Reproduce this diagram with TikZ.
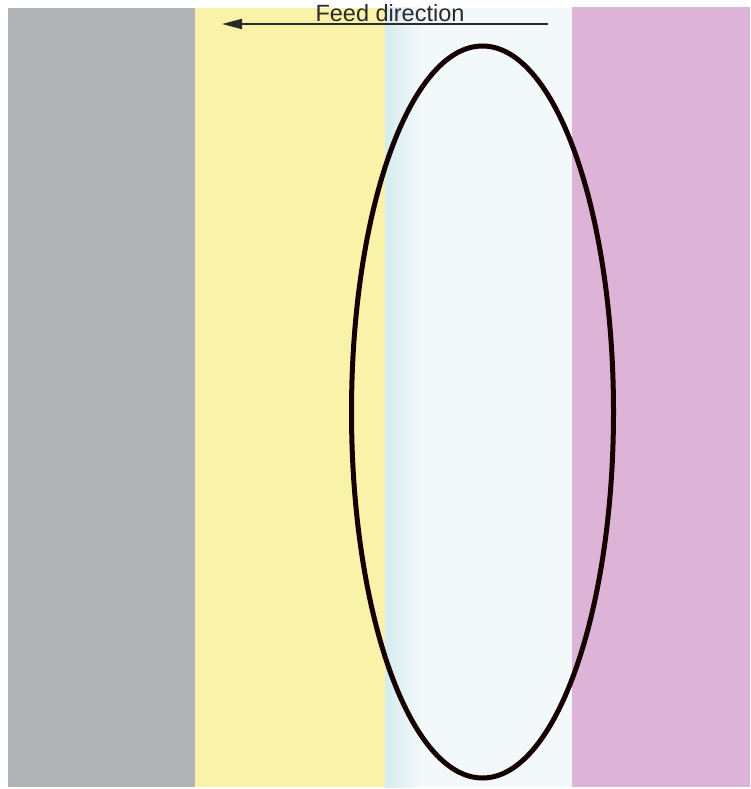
\documentclass[tikz,border=0pt]{standalone}
\usepackage{fontspec}
\setmainfont{Liberation Sans}
\usetikzlibrary{arrows.meta}
\definecolor{bandgray}{HTML}{B1B4B6}
\definecolor{bandyellow}{HTML}{F8F3A9}
\definecolor{bandpink}{HTML}{DDB4D8}
\definecolor{bandlight}{HTML}{F3F8FA}
\definecolor{bandcyan}{HTML}{D5ECF0}
\definecolor{labelgray}{HTML}{2A2A2A}
\tikzset{
  feedarrow/.style={line width=1.8pt,draw=labelgray,-{Triangle[length=20pt,width=10pt]}},
  loop/.style={line width=5pt,draw=black!92!red}
}
\begin{document}
\begin{tikzpicture}[x=1pt,y=-1pt]
\useasboundingbox (0,0) rectangle (750,789);
\fill[white] (0,0) rectangle (750,789);
\fill[bandgray] (8,8) rectangle (195,787);
\fill[bandyellow] (195,8) rectangle (385,787);
\shade[left color=bandcyan,right color=bandlight] (385,8) rectangle (420,787);
\fill[bandlight] (420,8) rectangle (572,787);
\fill[bandpink] (572,7) rectangle (750,787);
\coordinate (tail) at (548,24);
\coordinate (head) at (222,24);
\draw[feedarrow] (tail) -- (head);
\node[font=\fontsize{23.5}{26}\selectfont,text=labelgray,inner sep=0pt] (label) at (390,13.5) {Feed direction};
\draw[loop] (482.5,412) ellipse [x radius=131, y radius=366];
\end{tikzpicture}
\end{document}
